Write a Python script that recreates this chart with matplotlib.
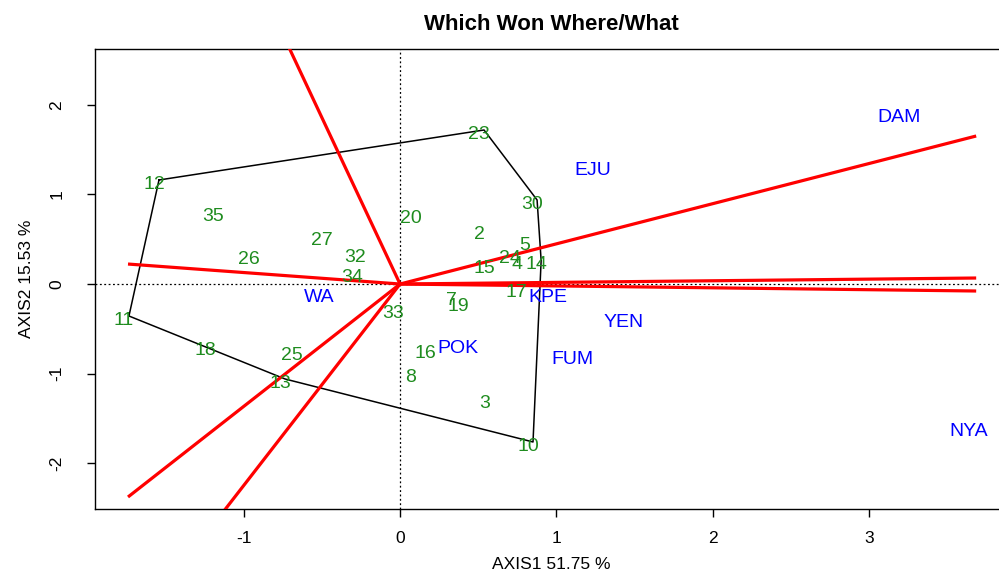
import matplotlib
matplotlib.use("Agg")
import matplotlib.pyplot as plt
import numpy as np

plt.rcParams["font.family"] = ["Liberation Sans", "DejaVu Sans"]
plt.rcParams["axes.unicode_minus"] = False

# genotype scores (axis1, axis2)
geno_labels = ["2", "3", "4", "5", "7", "8", "10", "11", "12", "13", "14",
               "15", "16", "17", "18", "19", "20", "23", "24", "25", "26",
               "27", "30", "32", "33", "34", "35"]
geno_x = [0.537, 0.575, 0.780, 0.831, 0.358, 0.102, 0.850, -1.733, -1.541,
          -0.735, 0.902, 0.569, 0.192, 0.774, -1.215, 0.403, 0.102, 0.537,
          0.735, -0.659, -0.934, -0.467, 0.876, -0.256, -0.013, -0.275, -1.164]
geno_y = [0.603, -1.283, 0.268, 0.480, -0.134, -0.993, -1.763, -0.357, 1.161,
          -1.060, 0.262, 0.223, -0.725, -0.045, -0.692, -0.201, 0.781, 1.719,
          0.335, -0.748, 0.324, 0.536, 0.938, 0.346, -0.279, 0.123, 0.804]

# environment scores
env_labels = ["DAM", "EJU", "KPE", "YEN", "FUM", "POK", "WA", "NYA"]
env_x = [3.223, 1.266, 0.978, 1.464, 1.132, 0.403, -0.486, 3.664]
env_y = [1.908, 1.317, -0.100, -0.379, -0.792, -0.670, -0.100, -1.596]

# convex hull vertices (genotype labels, in order)
hull = ["12", "23", "30", "14", "10", "13", "11"]

# sector rays from origin (end points)
ray_x = [-0.78, -1.739, -1.739, -1.20, 3.683, 3.683, 3.683]
ray_y = [2.90, 0.223, -2.377, -2.70, 1.652, 0.067, -0.078]

fig = plt.figure(figsize=(9.99, 5.73), dpi=100)
W, H = 999, 573
ax = fig.add_axes([95 / W, (H - 509) / H, (1007 - 95) / W, (509 - 49) / H])

ax.axhline(0, color="black", lw=0.9, ls=(0, (1.5, 2)), zorder=1)
ax.axvline(0, color="black", lw=0.9, ls=(0, (1.5, 2)), zorder=1)

# polygon
idx = [geno_labels.index(h) for h in hull] + [geno_labels.index(hull[0])]
ax.plot(np.array(geno_x)[idx], np.array(geno_y)[idx], color="black", lw=1.1, zorder=2)

# rays
for rx, ry in zip(ray_x, ray_y):
    ax.plot([0, rx], [0, ry], color="red", lw=2.3, solid_capstyle="butt", zorder=3)

for lab, x, y in zip(geno_labels, geno_x, geno_y):
    ax.annotate(lab, (x, y), xytext=(-3.6, -2.9), textcoords="offset points",
                ha="center", va="center", color="#1f8c1f", fontsize=14, zorder=4)

for lab, x, y in zip(env_labels, env_x, env_y):
    ax.annotate(lab, (x, y), xytext=(-3.6, -2.9), textcoords="offset points",
                ha="center", va="center", color="blue", fontsize=14, zorder=4)

ax.set_xlim(-1.950, 3.88)
ax.set_ylim(-2.511, 2.623)
ax.set_xticks([-1, 0, 1, 2, 3])
ax.set_yticks([-2, -1, 0, 1, 2])
ax.tick_params(direction="out", length=6, width=1, labelsize=12.5)
ax.tick_params(axis="x", pad=10)
ax.tick_params(axis="y", pad=16)
for lbl in ax.get_yticklabels():
    lbl.set_rotation(90)
    lbl.set_va("center")
for s in ax.spines.values():
    s.set_linewidth(1)

ax.set_xlabel("AXIS1 51.75 %", fontsize=12.5, labelpad=8)
ax.set_ylabel("AXIS2 15.53 %", fontsize=12.5, labelpad=11)
ax.set_title("Which Won Where/What", fontsize=16, fontweight="bold", pad=14)

fig.savefig("out.png", dpi=100)
